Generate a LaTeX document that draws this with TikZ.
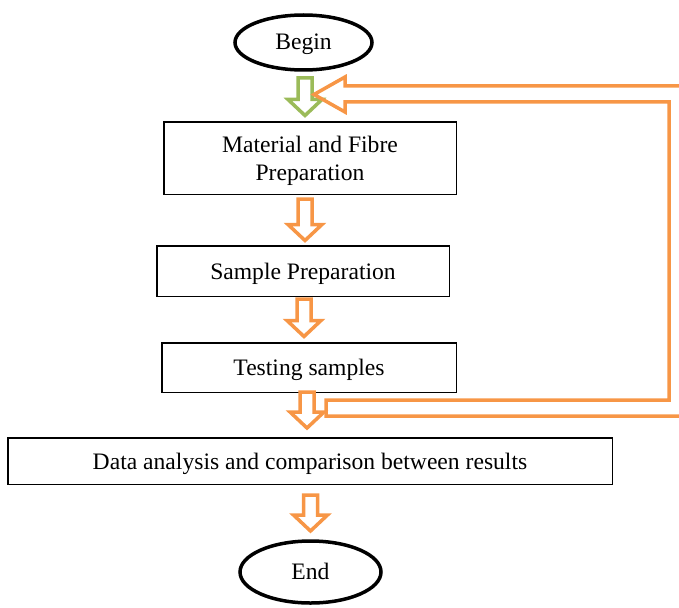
\documentclass[tikz,border=0pt]{standalone}
\usepackage{fontspec}
\setmainfont{Liberation Serif}
\usetikzlibrary{shapes.geometric}
\definecolor{flowor}{HTML}{F79646}
\definecolor{flowgr}{HTML}{9BBB59}
\tikzset{
  flowtext/.style={font=\fontsize{23.6}{28}\selectfont},
  boxnode/.style={flowtext, draw=black, line width=1.5pt, inner sep=0pt, align=center, text depth=0pt},
  termnode/.style={flowtext, ellipse, draw=black, line width=3.5pt, inner sep=0pt, text depth=1.5pt},
  blockarrow/.style={line width=3.5pt, fill=white, line join=miter, miter limit=10},
  loopline/.style={draw=flowor, line width=3.5pt, line join=miter, miter limit=10},
}
% hollow down arrow: colour, centre x, top y, tip y
\newcommand\hollowdown[4]{%
  \draw[blockarrow, draw=#1] (#2-7,#3) -- (#2+7,#3) -- (#2+7,#4-16)
    -- (#2+17,#4-16) -- (#2,#4) -- (#2-17,#4-16) -- (#2-7,#4-16) -- cycle;}
\begin{document}
\begin{tikzpicture}[x=1pt, y=-1pt]
  \useasboundingbox (0,0) rectangle (679,607);

  % terminals and process boxes
  \node[termnode, minimum width=137, minimum height=55] (begin) at (303.5,42.5) {Begin};
  \node[boxnode, minimum width=292.5, minimum height=72.5] (mat) at (310,158) {Material and Fibre\\Preparation};
  \node[boxnode, minimum width=292.5, minimum height=50.5] (smp) at (303,271) {Sample Preparation};
  \node[boxnode, minimum width=294.5, minimum height=49.5] (tst) at (309,367.5) {Testing samples};
  \node[boxnode, minimum width=604.5, minimum height=46.5] (dat) at (310,461) {Data analysis and comparison between results};
  \node[termnode, minimum width=141, minimum height=62] (fin) at (310.5,572) {End};

  % block arrows between the steps
  \hollowdown{flowgr}{305}{78}{115.5}
  \hollowdown{flowor}{305}{199}{240.5}
  \hollowdown{flowor}{304}{299}{336.5}
  \hollowdown{flowor}{307}{392}{428}
  \hollowdown{flowor}{310.5}{495}{531}

  % feedback loop from testing back to preparation
  \coordinate (loopin) at (326,408);
  \coordinate (looptip) at (314,94.5);
  \draw[loopline] (685,86) -- (345,86) -- (345,77) -- (looptip) -- (345,112)
    -- (345,102) -- (669,102) -- (669,400) -- (loopin |- 0,400) -- (loopin |- 0,416) -- (685,416);
\end{tikzpicture}
\end{document}
